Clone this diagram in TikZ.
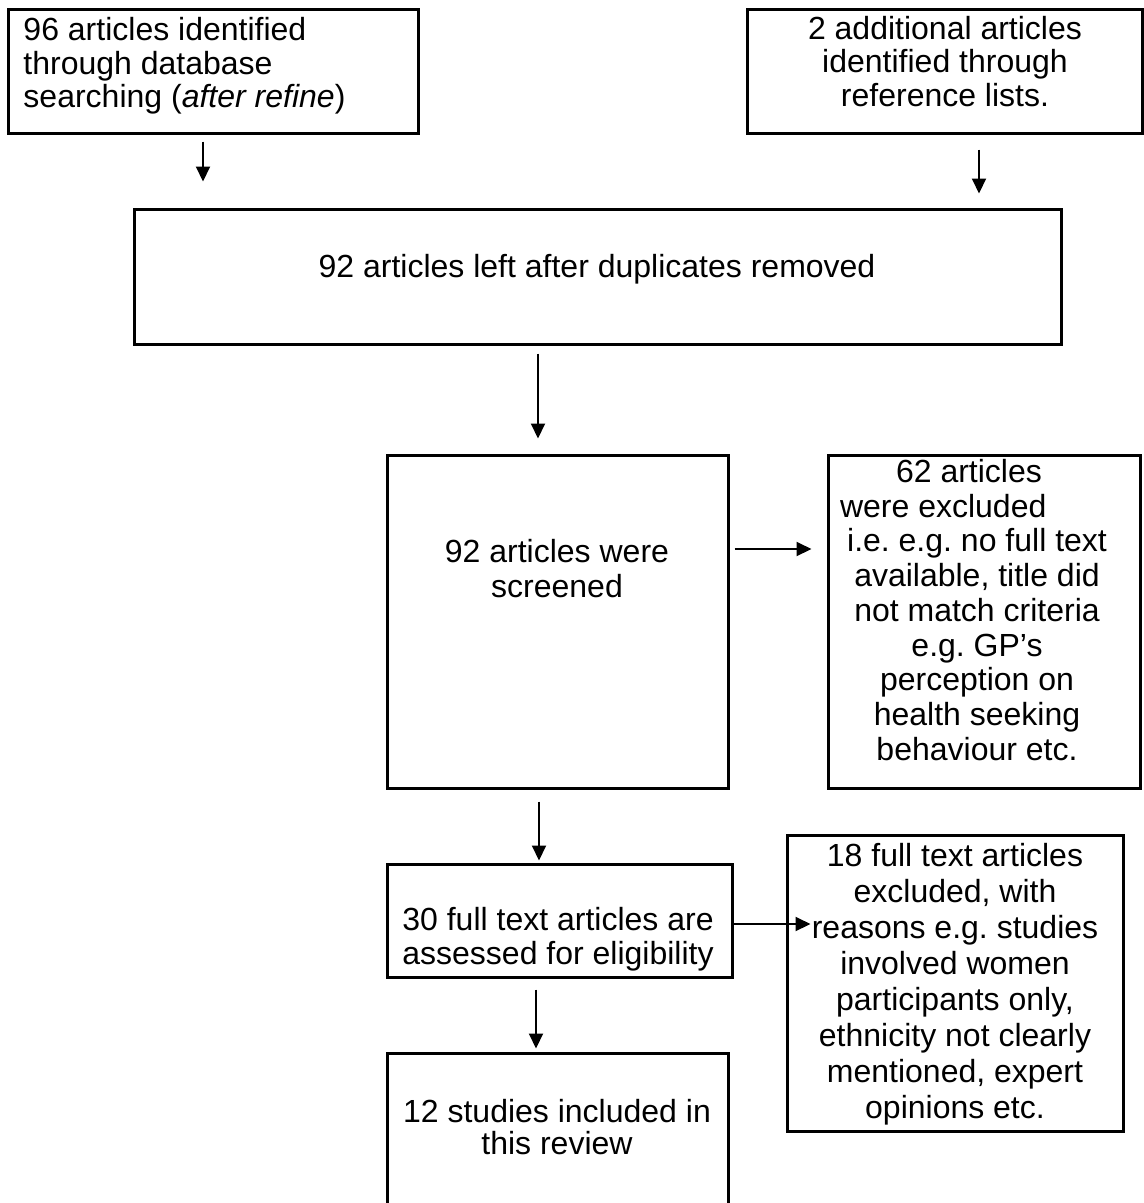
\documentclass[tikz,border=0pt]{standalone}
\usepackage{fontspec}
\setmainfont{Liberation Sans}
\usetikzlibrary{arrows.meta,fit,calc}
\frenchspacing
\begin{document}
\begin{tikzpicture}[x=0.4bp,y=-0.4bp,
  box/.style={draw, line width=1.2bp, inner sep=0pt},
  arr/.style={line width=0.8bp, -{Triangle[length=6bp,width=5.6bp]}},
  txt/.style={inner sep=0pt, font=\fontsize{12.8bp}{#1}\selectfont\frenchspacing},
  txt/.default=14bp]
\useasboundingbox (0,0) rectangle (1144,1203);
\clip (0,0) rectangle (1144,1203);

% boxes
\node[box, fit={(8,9)(418,133)}] (b1) {};
\node[box, fit={(747,9)(1142,133)}] (b2) {};
\node[box, fit={(134,209)(1061,344)}] (b3) {};
\node[box, fit={(387,455)(728,788)}] (b4) {};
\node[box, fit={(828,455)(1140,788)}] (b5) {};
\node[box, fit={(387,864)(732,977)}] (b6) {};
\node[box, fit={(787,835)(1123,1131)}] (b7) {};
\node[box, fit={(387,1053)(728,1240)}] (b8) {};

% texts
\node[txt=13.5bp, anchor=north west, align=left] (t1) at (23,16.7)
  {96 articles identified\\through database\\searching (\textit{after refine})};
\node[txt=13.5bp, anchor=north, align=center] (t2) at (945,15.5)
  {2 additional articles\\identified through\\reference lists.};
\node[txt, anchor=base] (t3) at (597,277)
  {92 articles left after duplicates removed};
\node[txt=14bp, anchor=north, align=center] (t4) at (557,538.7)
  {92 articles were\\screened};
\node[txt=13.9bp, anchor=north, align=center] (t5) at (977,458.7)
  {62 articles\rule{6.4bp}{0pt}\\were excluded\rule{27bp}{0pt}\\i.e. e.g. no full text\\available, title did\\not match criteria\\e.g. GP’s\\perception on\\health seeking\\behaviour etc.};
\node[txt=13.6bp, anchor=north, align=center] (t6) at (558,906.7)
  {30 full text articles are\\assessed for eligibility};
\node[txt=14.4bp, anchor=north, align=center] (t7) at (955,842.7)
  {18 full text articles\\excluded, with\\reasons e.g. studies\\involved women\\participants only,\\ethnicity not clearly\\mentioned, expert\\opinions etc.};
\node[txt=13bp, anchor=north, align=center] (t8) at (557,1098.7)
  {12 studies included in\\this review};

% arrow guide coordinates
\coordinate (x1) at (203,0);
\coordinate (x2) at (979,0);
\coordinate (x3) at (538,0);
\coordinate (y4) at (0,549);
\coordinate (x5) at (539,0);
\coordinate (y6) at (0,924);
\coordinate (x7) at (536,0);

% connectors
\draw[arr] ($(b1.south -| x1)+(0,7)$) -- ($(b3.north -| x1)+(0,-26)$);
\draw[arr] ($(b2.south -| x2)+(0,15)$) -- ($(b3.north -| x2)+(0,-14)$);
\draw[arr] ($(b3.south -| x3)+(0,8)$) -- ($(b4.north -| x3)+(0,-15)$);
\draw[arr] ($(b4.east |- y4)+(5,0)$) -- ($(b5.west |- y4)+(-15,0)$);
\draw[arr] ($(b4.south -| x5)+(0,12)$) -- ($(b6.north -| x5)+(0,-2)$);
\draw[arr] (b6.east |- y6) -- ($(b7.west |- y6)+(25,0)$);
\draw[arr] ($(b6.south -| x7)+(0,11)$) -- ($(b8.north -| x7)+(0,-3)$);
\end{tikzpicture}
\end{document}
